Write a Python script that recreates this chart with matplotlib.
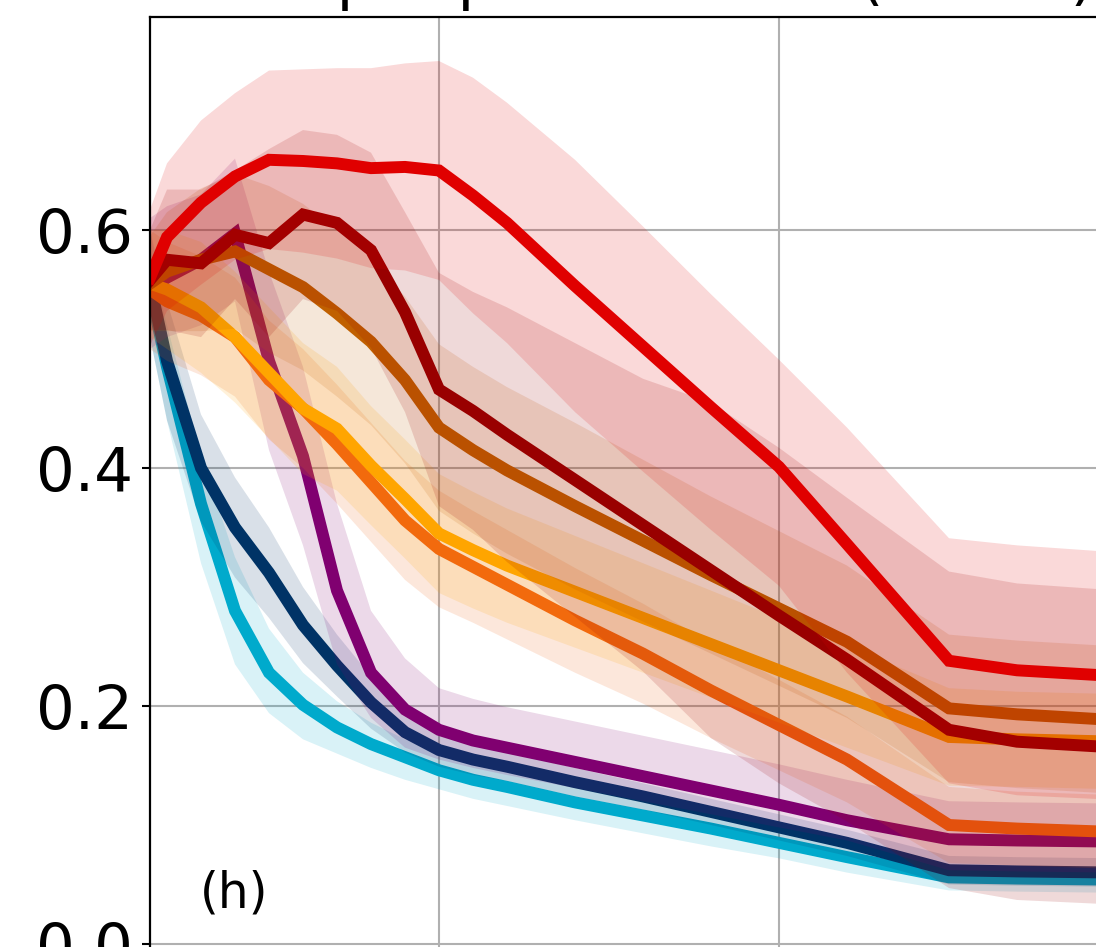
import numpy as np
import matplotlib
matplotlib.use("Agg")
import matplotlib.pyplot as plt

# shared x samples
x = [0.15, 0.2, 0.3, 0.4, 0.5, 0.6, 0.7, 0.8, 0.9, 1.0, 1.1, 1.2, 1.4, 1.6, 1.8, 2.0, 2.2, 2.5, 2.7, 3.0, 3.4]

# series (mean, upper, lower), drawn in this order
cyan_mean = [0.55, 0.485, 0.37, 0.28, 0.228, 0.201, 0.182, 0.168, 0.157, 0.146, 0.138, 0.132, 0.119, 0.108, 0.097, 0.085, 0.073, 0.056, 0.055, 0.054, 0.053]
cyan_hi = [0.58, 0.52, 0.41, 0.325, 0.265, 0.228, 0.204, 0.186, 0.172, 0.16, 0.151, 0.145, 0.132, 0.12, 0.108, 0.096, 0.084, 0.066, 0.065, 0.064, 0.063]
cyan_lo = [0.51, 0.44, 0.32, 0.235, 0.194, 0.172, 0.16, 0.148, 0.138, 0.13, 0.122, 0.116, 0.104, 0.093, 0.082, 0.072, 0.06, 0.045, 0.044, 0.043, 0.042]

navy_mean = [0.555, 0.49, 0.40, 0.35, 0.312, 0.268, 0.234, 0.203, 0.178, 0.163, 0.155, 0.149, 0.136, 0.124, 0.111, 0.098, 0.085, 0.062, 0.061, 0.06, 0.059]
navy_hi = [0.60, 0.54, 0.445, 0.392, 0.35, 0.30, 0.26, 0.225, 0.195, 0.177, 0.168, 0.161, 0.148, 0.135, 0.122, 0.109, 0.096, 0.074, 0.073, 0.072, 0.071]
navy_lo = [0.51, 0.44, 0.355, 0.308, 0.274, 0.236, 0.208, 0.181, 0.161, 0.149, 0.142, 0.137, 0.124, 0.113, 0.1, 0.087, 0.074, 0.05, 0.049, 0.048, 0.047]

purple_mean = [0.55, 0.56, 0.575, 0.597, 0.49, 0.41, 0.297, 0.228, 0.197, 0.18, 0.171, 0.165, 0.153, 0.141, 0.129, 0.117, 0.104, 0.088, 0.087, 0.086, 0.085]
purple_hi = [0.61, 0.62, 0.63, 0.66, 0.565, 0.485, 0.37, 0.28, 0.24, 0.215, 0.206, 0.199, 0.187, 0.175, 0.163, 0.151, 0.138, 0.12, 0.119, 0.118, 0.117]
purple_lo = [0.50, 0.51, 0.52, 0.54, 0.415, 0.335, 0.235, 0.19, 0.165, 0.155, 0.148, 0.142, 0.131, 0.12, 0.109, 0.098, 0.087, 0.062, 0.061, 0.06, 0.059]

ored_mean = [0.55, 0.54, 0.528, 0.51, 0.474, 0.45, 0.42, 0.388, 0.356, 0.332, 0.317, 0.302, 0.272, 0.244, 0.213, 0.184, 0.155, 0.10, 0.097, 0.094, 0.093]
ored_hi = [0.60, 0.59, 0.578, 0.56, 0.524, 0.50, 0.47, 0.438, 0.406, 0.381, 0.364, 0.348, 0.316, 0.286, 0.253, 0.222, 0.191, 0.132, 0.128, 0.125, 0.124]
ored_lo = [0.50, 0.49, 0.478, 0.46, 0.424, 0.40, 0.37, 0.338, 0.306, 0.283, 0.27, 0.256, 0.228, 0.202, 0.173, 0.146, 0.119, 0.068, 0.066, 0.063, 0.062]

orange_mean = [0.555, 0.55, 0.535, 0.51, 0.48, 0.45, 0.433, 0.402, 0.374, 0.345, 0.331, 0.318, 0.296, 0.274, 0.252, 0.23, 0.208, 0.174, 0.172, 0.170, 0.168]
orange_hi = [0.60, 0.60, 0.59, 0.565, 0.535, 0.505, 0.485, 0.452, 0.424, 0.395, 0.38, 0.366, 0.343, 0.32, 0.297, 0.274, 0.251, 0.215, 0.212, 0.210, 0.208]
orange_lo = [0.51, 0.50, 0.48, 0.455, 0.425, 0.395, 0.381, 0.352, 0.324, 0.295, 0.282, 0.27, 0.249, 0.228, 0.207, 0.186, 0.165, 0.133, 0.132, 0.13, 0.128]

brown_mean = [0.555, 0.565, 0.575, 0.582, 0.567, 0.552, 0.53, 0.506, 0.474, 0.434, 0.415, 0.398, 0.368, 0.339, 0.31, 0.282, 0.254, 0.198, 0.193, 0.188, 0.186]
brown_hi = [0.595, 0.615, 0.635, 0.647, 0.637, 0.622, 0.60, 0.576, 0.544, 0.504, 0.485, 0.468, 0.438, 0.407, 0.376, 0.347, 0.318, 0.260, 0.255, 0.250, 0.248]
brown_lo = [0.515, 0.515, 0.515, 0.517, 0.497, 0.482, 0.46, 0.436, 0.404, 0.364, 0.345, 0.328, 0.298, 0.271, 0.244, 0.217, 0.190, 0.136, 0.131, 0.126, 0.124]

dred_mean = [0.558, 0.575, 0.572, 0.596, 0.589, 0.613, 0.606, 0.583, 0.531, 0.466, 0.448, 0.428, 0.39, 0.352, 0.314, 0.276, 0.239, 0.180, 0.170, 0.165, 0.160]
dred_hi = [0.60, 0.634, 0.634, 0.65, 0.668, 0.684, 0.680, 0.665, 0.615, 0.564, 0.548, 0.535, 0.505, 0.475, 0.455, 0.417, 0.375, 0.313, 0.303, 0.297, 0.293]
dred_lo = [0.516, 0.516, 0.51, 0.542, 0.51, 0.542, 0.532, 0.501, 0.447, 0.368, 0.348, 0.321, 0.275, 0.229, 0.173, 0.135, 0.103, 0.047, 0.037, 0.033, 0.027]

red_mean = [0.56, 0.594, 0.623, 0.645, 0.659, 0.658, 0.656, 0.652, 0.653, 0.650, 0.629, 0.606, 0.553, 0.502, 0.451, 0.401, 0.336, 0.238, 0.230, 0.225, 0.222]
red_hi = [0.617, 0.656, 0.692, 0.715, 0.734, 0.735, 0.736, 0.736, 0.740, 0.742, 0.728, 0.707, 0.659, 0.603, 0.546, 0.491, 0.434, 0.341, 0.335, 0.329, 0.326]
red_lo = [0.503, 0.532, 0.554, 0.575, 0.584, 0.581, 0.576, 0.568, 0.566, 0.558, 0.530, 0.505, 0.447, 0.397, 0.348, 0.301, 0.228, 0.135, 0.125, 0.121, 0.118]

colors = ['#00AACC', '#003366', '#800070', '#F06010', '#FFA500', '#C06000', '#990000', '#E00000']
means = [cyan_mean, navy_mean, purple_mean, ored_mean, orange_mean, brown_mean, dred_mean, red_mean]
his = [cyan_hi, navy_hi, purple_hi, ored_hi, orange_hi, brown_hi, dred_hi, red_hi]
los = [cyan_lo, navy_lo, purple_lo, ored_lo, orange_lo, brown_lo, dred_lo, red_lo]

W, H = 1096, 947
fig = plt.figure(figsize=(W / 100, H / 100), dpi=100)

x0, x1 = 0.15, 3.5
y0, y1 = -0.05, 0.779
px_per_x = 340.0
ax_w = (x1 - x0) * px_per_x
ax_top = 17
ax_bot = 944 + 0.05 * 1190
ax = fig.add_axes([150 / W, (H - ax_bot) / H, ax_w / W, (ax_bot - ax_top) / H])

for c, m, hi, lo in zip(colors, means, his, los):
    ax.plot(x, m, color=c, lw=8.6, solid_joinstyle='miter', zorder=2)
    ax.fill_between(x, lo, hi, color=c, alpha=0.15, lw=0, zorder=2)

ax.set_xlim(x0, x1)
ax.set_ylim(y0, y1)
ax.set_xticks([1, 2, 3])
ax.set_yticks([0.0, 0.2, 0.4, 0.6])
ax.set_yticklabels(['0.0', '0.2', '0.4', '0.6'])
ax.tick_params(axis='both', labelsize=44, length=6, width=1.5, pad=6.5)
ax.tick_params(axis='x', labelbottom=False)  # x labels sit below the cropped area
ax.grid(True, color='#b0b0b0', lw=1.5)
ax.set_axisbelow(True)
for s in ax.spines.values():
    s.set_linewidth(1.6)

ax.text(50 / ax_w, (ax_bot - 907) / (ax_bot - ax_top), '(h)', fontsize=35,
        transform=ax.transAxes, ha='left', va='baseline')

fig.text(280 / W, 1 + 1.7 / H, 'Input perturbation (mixed)', fontsize=44,
         ha='left', va='baseline')

fig.savefig('out.png', dpi=100)
